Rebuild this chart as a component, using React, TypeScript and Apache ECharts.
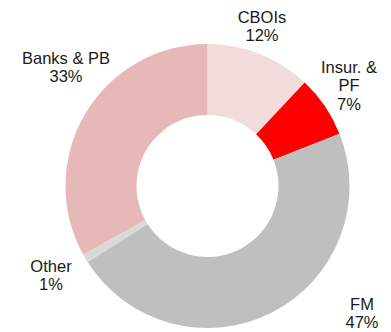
import React, { useEffect, useRef } from "react";
import * as echarts from "echarts";

// Investor breakdown, share of total (%)
const categories = ["CBOIs", "Insur. &\nPF", "FM", "Other", "Banks & PB"];
const shares = [12, 7, 47, 1, 33];
const colors = ["#f2dcdb", "#ff0000", "#bfbfbf", "#d9d9d9", "#e6b9b8"];

// Where each slice's caption sits (centre of the text block, px)
const labelSpots: [number, number][] = [
  [262, 26],
  [349, 85],
  [362, 313],
  [51, 275],
  [66, 67],
];

export default function App() {
  const ref = useRef<HTMLDivElement>(null);

  useEffect(() => {
    document.body.style.margin = "0";
    const chart = echarts.init(ref.current!, undefined, { renderer: "svg" });
    chart.setOption({
      animation: false,
      backgroundColor: "#ffffff",
      series: [
        {
          type: "pie",
          center: [207.5, 186],
          radius: [71, 142],
          startAngle: 90,
          clockwise: true,
          silent: true,
          data: categories.map((name, i) => ({
            name,
            value: shares[i],
            itemStyle: { color: colors[i] },
          })),
          label: {
            show: true,
            position: "outside",
            alignTo: "none",
            overflow: "none",
            formatter: "{b}\n{c}%",
            fontFamily: "Liberation Sans, Arial, sans-serif",
            fontSize: 16.5,
            lineHeight: 18.5,
            color: "#1a1a1a",
            align: "center",
          },
          labelLine: { show: false },
          labelLayout: (p: any) => {
            const [x, y] = labelSpots[p.dataIndex];
            return { x, y, align: "center", verticalAlign: "middle", width: 200 };
          },
        },
      ],
    });
    return () => chart.dispose();
  }, []);

  return <div ref={ref} style={{ width: 391, height: 332 }} />;
}
